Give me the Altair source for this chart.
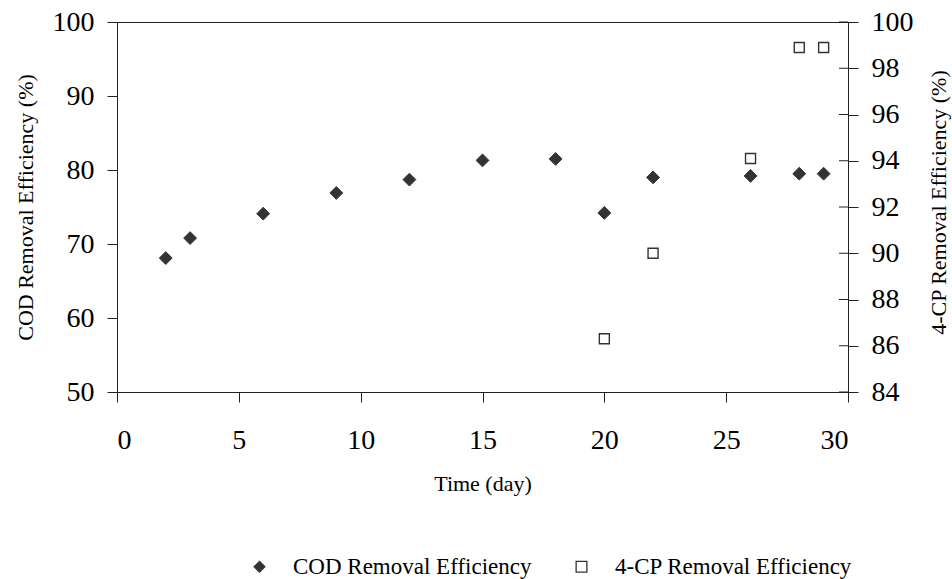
import altair as alt
import pandas as pd

# COD removal efficiency (left axis) by day
days_cod = [2, 3, 6, 9, 12, 15, 18, 20, 22, 26, 28, 29]
cod_eff = [68.1, 70.8, 74.1, 76.9, 78.7, 81.3, 81.5, 74.2, 79.0, 79.2, 79.5, 79.5]

# 4-CP removal efficiency (right axis) by day
days_cp = [20, 22, 26, 28, 29]
cp_eff = [86.3, 90.0, 94.1, 98.9, 98.9]

series_names = ["COD Removal Efficiency", "4-CP Removal Efficiency"]
x_ticks = [0, 5, 10, 15, 20, 25, 30]
left_ticks = [50, 60, 70, 80, 90, 100]
right_ticks = [84, 86, 88, 90, 92, 94, 96, 98, 100]

W, H = 731, 370
FONT = "Liberation Serif"
INK = "#222222"
MARK = "#333333"

cod_df = pd.DataFrame({"day": days_cod, "eff": cod_eff, "series": series_names[0]})
cp_df = pd.DataFrame({"day": days_cp, "eff": cp_eff, "series": series_names[1]})
rtick_df = pd.DataFrame({"v": right_ticks})

x_enc = alt.X(
    "day:Q",
    scale=alt.Scale(domain=[0, 30], nice=False),
    axis=alt.Axis(
        values=x_ticks, title="Time (day)", tickSize=10, labelPadding=24,
        titleX=W / 2, titleY=91, titleBaseline="middle", titleAlign="center",
    ),
)

legend_def = alt.Legend(
    title=None, orient="none", legendX=131, legendY=533, direction="horizontal",
    labelFontSize=23, labelOffset=22, columnPadding=38, symbolSize=115,
    labelLimit=0, symbolStrokeWidth=1.3, padding=0,
)

shape_enc = alt.Shape(
    "series:N",
    scale=alt.Scale(domain=series_names, range=["diamond", "square"]),
    legend=legend_def,
)
fill_enc = alt.Fill(
    "series:N",
    scale=alt.Scale(domain=series_names, range=[MARK, "white"]),
    legend=legend_def,
)
stroke_enc = alt.Stroke(
    "series:N",
    scale=alt.Scale(domain=series_names, range=[MARK, MARK]),
    legend=legend_def,
)

cod_layer = alt.Chart(cod_df).mark_point(
    size=165, filled=False, strokeWidth=1, opacity=1
).encode(
    x=x_enc,
    y=alt.Y(
        "eff:Q",
        scale=alt.Scale(domain=[50, 100], nice=False),
        axis=alt.Axis(
            values=left_ticks, orient="left", title="COD Removal Efficiency (%)",
            tickSize=10, labelPadding=13, titleX=-92, titleY=H / 2,
            titleAngle=270, titleBaseline="middle", titleAlign="center",
        ),
    ),
    shape=shape_enc,
    fill=fill_enc,
    stroke=stroke_enc,
)

cp_layer = alt.Chart(cp_df).mark_point(
    size=100, filled=False, strokeWidth=1.4, opacity=1
).encode(
    x=x_enc,
    y=alt.Y(
        "eff:Q",
        scale=alt.Scale(domain=[84, 100], nice=False),
        axis=alt.Axis(
            values=right_ticks, orient="right", title="4-CP Removal Efficiency (%)",
            tickSize=10, labelPadding=13, titleX=90, titleY=H / 2 - 5,
            titleAngle=270, titleBaseline="middle", titleAlign="center",
        ),
    ),
    shape=shape_enc,
    fill=fill_enc,
    stroke=stroke_enc,
)

# inner halves of the right-axis ticks (they cross the axis line)
inner_ticks = alt.Chart(rtick_df).mark_rule(color=INK, strokeWidth=1).encode(
    y=alt.Y("v:Q", scale=alt.Scale(domain=[84, 100], nice=False), axis=None),
    x=alt.value(W - 9),
    x2=alt.value(W),
)

chart = (
    alt.layer(cod_layer, cp_layer, inner_ticks)
    .resolve_scale(y="independent")
    .properties(
        width=W, height=H,
        autosize=alt.AutoSizeParams(type="none"),
        padding={"left": 117, "top": 22, "right": 104, "bottom": 187},
    )
    .configure(font=FONT, background="white")
    .configure_view(stroke=INK, strokeWidth=1)
    .configure_axis(
        grid=False, domainColor=INK, tickColor=INK, domainWidth=1, tickWidth=1,
        labelFont=FONT, labelFontSize=28, labelColor="black",
        titleFont=FONT, titleFontSize=22, titleFontWeight="normal", titleColor="black",
    )
    .configure_legend(labelFont=FONT, labelColor="black")
)

chart.save("out.html", embed_options={"renderer": "svg", "actions": False})
